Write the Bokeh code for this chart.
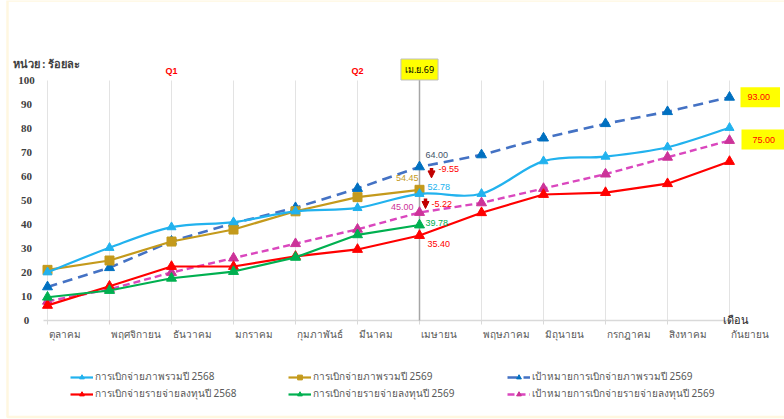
from bokeh.plotting import figure
from bokeh.models import (Range1d, ColumnDataSource, Label, LabelSet, BoxAnnotation,
                          Arrow, NormalHead, Legend, LegendItem)
from bokeh.embed import file_html
from bokeh.resources import INLINE

# ---------------- data ----------------
months = ["ตุลาคม", "พฤศจิกายน", "ธันวาคม", "มกราคม", "กุมภาพันธ์", "มีนาคม",
          "เมษายน", "พฤษภาคม", "มิถุนายน", "กรกฎาคม", "สิงหาคม", "กันยายน"]
total_2568 = [20.1, 30.3, 38.9, 41.0, 45.5, 46.9, 52.78, 52.8, 66.4, 68.3, 72.2, 80.3]
total_2569 = [21.1, 25.0, 32.9, 37.9, 45.5, 51.4, 54.45]
target_total_2569 = [14.0, 22.0, 33.0, 40.5, 47.0, 55.0, 64.0, 69.0, 76.0, 82.0, 87.0, 93.0]
invest_2568 = [6.3, 14.3, 22.5, 22.5, 26.7, 29.6, 35.40, 44.9, 52.5, 53.3, 57.0, 66.25]
invest_2569 = [9.7, 12.5, 17.6, 20.4, 26.3, 35.7, 39.78]
target_invest_2569 = [8.0, 13.0, 20.0, 26.0, 32.0, 38.0, 45.0, 49.0, 55.0, 61.0, 68.0, 75.0]
y_ticks = [0, 10, 20, 30, 40, 50, 60, 70, 80, 90, 100]
gap_total = "-9.55"
gap_invest = "-5.22"
cur_idx = 6  # เม.ย.69

# ---------------- layout ----------------
W, H = 784, 419
PX = 62.0     # px per category
PY = 2.4      # px per percent
OX = 47.0     # screen x of first category
OY = 320.0    # screen y of value 0
XS, XE = -OX / PX, (W - OX) / PX
YS, YE = -(H - OY) / PY, OY / PY

FONT = "Liberation Sans"
THAI = "Noto Sans"

p = figure(width=W, height=H, output_backend="svg", toolbar_location=None,
           x_range=Range1d(XS, XE), y_range=Range1d(YS, YE),
           min_border=0, outline_line_color=None,
           background_fill_color="white", border_fill_color="white")
p.xaxis.visible = False
p.yaxis.visible = False
p.grid.visible = False

# chart-area border (light yellow frame of the original)
p.add_layout(BoxAnnotation(left=XS + 7 / PX, right=XE + 1, top=YE, bottom=YS + 2.5 / PY,
                           fill_alpha=0, line_color="#FFE699", line_width=2.5))

xs = list(range(len(months)))
last = len(months) - 1
ymax = y_ticks[-1]

# vertical gridlines at categories
p.segment(x0=xs, y0=[0] * len(xs), x1=xs, y1=[ymax] * len(xs), line_color="#E3E3E3", line_width=1)
# category axis line and ticks
p.segment(x0=[-4 / PX], y0=[0], x1=[last + 7 / PX], y1=[0], line_color="#D9D9D9", line_width=1.5)
p.segment(x0=xs, y0=[0] * len(xs), x1=xs, y1=[-4 / PY] * len(xs), line_color="#D9D9D9", line_width=1)
# current month line
p.segment(x0=[cur_idx], y0=[0], x1=[cur_idx], y1=[ymax + 2 / PY], line_color="#A6A6A6", line_width=1.5)

# ---------------- series ----------------
def catmull(xv, yv):
    n = len(xv)
    d = dict(x0=[], y0=[], x1=[], y1=[], cx0=[], cy0=[], cx1=[], cy1=[])
    for i in range(n - 1):
        a = i - 1 if i > 0 else i
        b = i + 2 if i + 2 < n else i + 1
        d["x0"].append(xv[i]); d["y0"].append(yv[i])
        d["x1"].append(xv[i + 1]); d["y1"].append(yv[i + 1])
        d["cx0"].append(xv[i] + (xv[i + 1] - xv[a]) / 6.0)
        d["cy0"].append(yv[i] + (yv[i + 1] - yv[a]) / 6.0)
        d["cx1"].append(xv[i + 1] - (xv[b] - xv[i]) / 6.0)
        d["cy1"].append(yv[i + 1] - (yv[b] - yv[i]) / 6.0)
    return ColumnDataSource(d)

C_CYAN = "#22B2EE"
C_GOLD = "#C49A1C"
C_BLUE_L = "#4472C4"
C_BLUE_M = "#0070C0"
C_RED = "#FF0000"
C_GREEN = "#00B050"
C_PINK_L = "#DA47BE"
C_PINK_M = "#CC3399"

r_tt_l = p.line(xs, target_total_2569, line_color=C_BLUE_L, line_width=2.6, line_dash="10 6")
r_tt_m = p.scatter(xs, target_total_2569, marker="triangle", size=10, fill_color=C_BLUE_M, line_color=C_BLUE_M)
r_ti_l = p.line(xs, target_invest_2569, line_color=C_PINK_L, line_width=2.4, line_dash="7 4")
r_ti_m = p.scatter(xs, target_invest_2569, marker="triangle", size=10, fill_color=C_PINK_M, line_color=C_PINK_M)

r_i68_l = p.line(xs, invest_2568, line_color=C_RED, line_width=2.2)
r_i68_m = p.scatter(xs, invest_2568, marker="triangle", size=10, fill_color=C_RED, line_color=C_RED)
xs69 = xs[:len(invest_2569)]
r_i69_l = p.line(xs69, invest_2569, line_color=C_GREEN, line_width=2.2)
r_i69_m = p.scatter(xs69, invest_2569, marker="triangle", size=10, fill_color=C_GREEN, line_color=C_GREEN)

xt69 = xs[:len(total_2569)]
r_t69_l = p.line(xt69, total_2569, line_color=C_GOLD, line_width=2.2)
r_t69_m = p.scatter(xt69, total_2569, marker="square", size=9, fill_color=C_GOLD, line_color=C_GOLD)
r_t68_l = p.bezier(x0="x0", y0="y0", x1="x1", y1="y1", cx0="cx0", cy0="cy0", cx1="cx1", cy1="cy1",
                   source=catmull(xs, total_2568), line_color=C_CYAN, line_width=2.2)
r_t68_m = p.scatter(xs, total_2568, marker="triangle", size=9, fill_color=C_CYAN, line_color=C_CYAN)

# ---------------- text annotations ----------------
def lab(text, x, y, color, size="9px", xo=0, yo=0, align="left", bold=False, font=FONT, **kw):
    l = Label(x=x, y=y, text=text, x_offset=xo, y_offset=yo, text_color=color,
              text_font_size=size, text_align=align, text_baseline="middle",
              text_font=font, text_font_style="bold" if bold else "normal", **kw)
    p.add_layout(l)
    return l

ci = cur_idx
lab(f"{target_total_2569[ci]:.2f}", ci, target_total_2569[ci], "#44546A", xo=6, yo=12)
lab(gap_total, ci, target_total_2569[ci], "#FF0000", xo=19, yo=-2)
lab(f"{total_2569[ci]:.2f}", ci, total_2569[ci], C_GOLD, xo=-1, yo=12, align="right")
lab(f"{total_2568[ci]:.2f}", ci, total_2568[ci], C_CYAN, xo=8, yo=7)
lab(f"{target_invest_2569[ci]:.2f}", ci, target_invest_2569[ci], C_PINK_M, xo=-6, yo=6, align="right")
lab(gap_invest, ci, target_invest_2569[ci], "#FF0000", xo=12, yo=9)
lab(f"{invest_2569[ci]:.2f}", ci, invest_2569[ci], C_GREEN, xo=6, yo=2)
lab(f"{invest_2568[ci]:.2f}", ci, invest_2568[ci], "#FF0000", xo=8, yo=-8)

def down_arrow(xpx, ytop_px, ybot_px, yref):
    p.add_layout(Arrow(end=NormalHead(size=7, fill_color="#C00000", line_color="#C00000"),
                       x_start=ci + xpx / PX, y_start=yref + ytop_px / PY,
                       x_end=ci + xpx / PX, y_end=yref + ybot_px / PY,
                       line_color="#C00000", line_width=3.5))

down_arrow(12, -1, -11, target_total_2569[ci])
down_arrow(6, 14, 4, target_invest_2569[ci])

# end-value boxes
lab(f"{target_total_2569[last]:.2f}", last, target_total_2569[last], "#FF0000", xo=11, yo=0,
    background_fill_color="#FFFF00", padding=dict(left=7, right=10, top=7, bottom=7))
lab(f"{target_invest_2569[last]:.2f}", last, target_invest_2569[last], "#FF0000", xo=12, yo=1,
    background_fill_color="#FFFF00", padding=dict(left=11, right=10, top=7, bottom=7))

# header texts
lab("หน่วย : ร้อยละ", XS, ymax, "#404040", size="11px", xo=12, yo=17, bold=True, font=THAI)
lab("Q1", 2, ymax, "#FF0000", size="9px", yo=10, align="center", bold=True)
lab("Q2", 5, ymax, "#FF0000", size="9px", yo=10, align="center", bold=True)
lab("เม.ย.69", ci, ymax, "#000000", size="9px", yo=11, align="center", font=THAI,
    background_fill_color="#FFFF00", border_line_color="#BFBFBF", padding=4)
lab("เดือน", last, 0, "#262626", size="11px", xo=-7, yo=1, font=THAI)

# month labels
msrc = ColumnDataSource(dict(x=xs, y=[0] * len(xs), text=months))
p.add_layout(LabelSet(x="x", y="y", text="text", source=msrc, x_offset=1, y_offset=-14,
                      text_align="left", text_baseline="middle", text_font_size="10px",
                      text_color="#595959", text_font=THAI))

# y tick labels
ysrc = ColumnDataSource(dict(x=[XS] * len(y_ticks), y=y_ticks, text=[str(t) for t in y_ticks]))
p.add_layout(LabelSet(x="x", y="y", text="text", source=ysrc, x_offset=26,
                      text_align="center", text_baseline="middle", text_font_size="11px",
                      text_color="#404040", text_font="DejaVu Sans", text_font_style="bold"))

# ---------------- legends ----------------
def legend(items, xloc):
    lg = Legend(items=items, location=(xloc, 18), orientation="vertical",
                glyph_width=23, glyph_height=12, label_height=12, spacing=2,
                label_standoff=2, padding=0, margin=0, border_line_color=None,
                background_fill_alpha=0, label_text_font_size="10px",
                label_text_color="#595959", label_text_font=THAI)
    p.add_layout(lg, "center")

legend([LegendItem(label="การเบิกจ่ายภาพรวมปี 2568", renderers=[r_t68_l, r_t68_m]),
        LegendItem(label="การเบิกจ่ายรายจ่ายลงทุนปี 2568", renderers=[r_i68_l, r_i68_m])], 70)
legend([LegendItem(label="การเบิกจ่ายภาพรวมปี 2569", renderers=[r_t69_l, r_t69_m]),
        LegendItem(label="การเบิกจ่ายรายจ่ายลงทุนปี 2569", renderers=[r_i69_l, r_i69_m])], 288)
legend([LegendItem(label="เป้าหมายการเบิกจ่ายภาพรวมปี 2569", renderers=[r_tt_l, r_tt_m]),
        LegendItem(label="เป้าหมายการเบิกจ่ายรายจ่ายลงทุนปี 2569", renderers=[r_ti_l, r_ti_m])], 507)

open("out.html", "w").write(file_html(p, INLINE))
